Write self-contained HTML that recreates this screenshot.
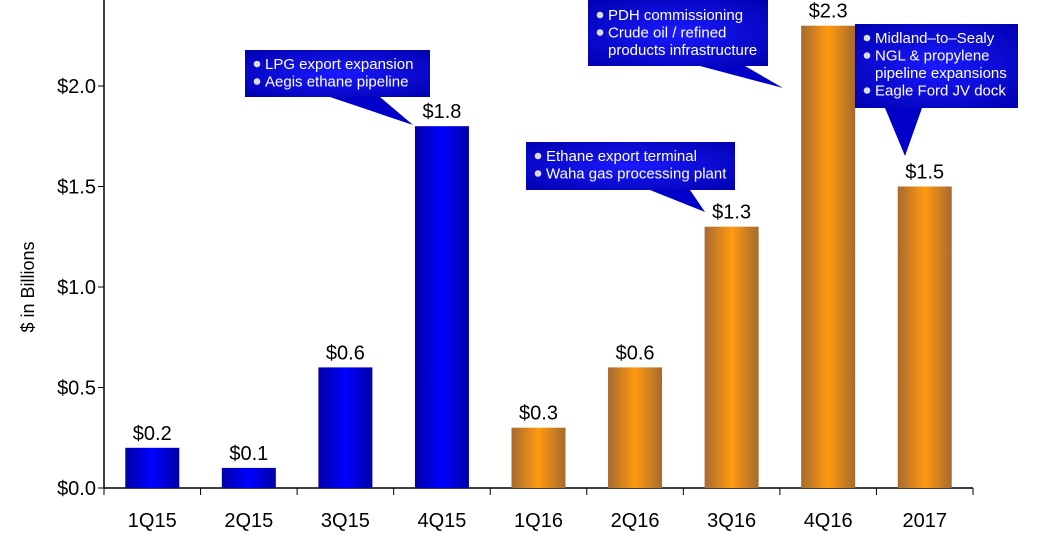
<!DOCTYPE html>
<html><head><meta charset="utf-8"><style>
body{margin:0;background:#fff;}
svg{display:block;font-family:"Liberation Sans",sans-serif;}
</style></head><body>
<svg id="chart" width="1047" height="537">
<defs>
<linearGradient id="gb" x1="0" x2="1"><stop offset="0" stop-color="#0000a8"/><stop offset="0.5" stop-color="#0000ff"/><stop offset="1" stop-color="#0000a8"/></linearGradient>
<linearGradient id="go" x1="0" x2="1"><stop offset="0" stop-color="#a66a30"/><stop offset="0.5" stop-color="#ff9a10"/><stop offset="1" stop-color="#a66a30"/></linearGradient>
<radialGradient id="gc" cx="0.5" cy="0.5" r="0.7"><stop offset="0" stop-color="#1a1aff"/><stop offset="1" stop-color="#0000b0"/></radialGradient>
</defs>
<g id="axes"></g><g id="bars"></g><g id="callouts"></g>
</svg>
<script>
const categories=["1Q15","2Q15","3Q15","4Q15","1Q16","2Q16","3Q16","4Q16","2017"];
const values=[0.2,0.1,0.6,1.8,0.3,0.6,1.3,2.3,1.5];
const valueLabels=["$0.2","$0.1","$0.6","$1.8","$0.3","$0.6","$1.3","$2.3","$1.5"];
const seriesColor=["b","b","b","b","o","o","o","o","o"];
const yTicks=[0,0.5,1.0,1.5,2.0];
const yTickLabels=["$0.0","$0.5","$1.0","$1.5","$2.0"];
const NS="http://www.w3.org/2000/svg";
const x0=104,x1=973,yBase=488,pxPer=201;
const bw=(x1-x0)/categories.length;
const y=v=>yBase-v*pxPer;
const xc=i=>x0+bw*(i+0.5);
function mk(tag,attrs,parent,txt){const e=document.createElementNS(NS,tag);for(const k in attrs)e.setAttribute(k,attrs[k]);if(txt!=null)e.textContent=txt;parent.appendChild(e);return e;}
const ax=document.getElementById('axes'),bg=document.getElementById('bars'),cg=document.getElementById('callouts');
let l=mk('line',{x1:x0,y1:0,x2:x0,y2:yBase,stroke:'#000','stroke-width':1.5},ax);

l=mk('line',{x1:x0,y1:yBase,x2:x1,y2:yBase,stroke:'#000','stroke-width':1.5},ax);

yTicks.forEach((t,i)=>{
 mk('line',{x1:x0-6,y1:y(t),x2:x0,y2:y(t),stroke:'#000'},ax);
 const tx=mk('text',{x:x0-8,y:y(t)+7,'text-anchor':'end','font-size':20,fill:'#000'},ax,yTickLabels[i]);
 
});
for(let i=0;i<=categories.length;i++)mk('line',{x1:x0+bw*i,y1:yBase,x2:x0+bw*i,y2:yBase+7,stroke:'#000'},ax);
const yt=mk('text',{x:0,y:0,transform:'translate(34,287) rotate(-90)','text-anchor':'middle','font-size':18},ax,'$ in Billions');

categories.forEach((c,i)=>{
 const t=mk('text',{x:xc(i),y:527,'text-anchor':'middle','font-size':20},ax,c);
 
 const r=mk('rect',{x:xc(i)-27,y:y(values[i]),width:54,height:yBase-y(values[i]),fill:seriesColor[i]=='b'?'url(#gb)':'url(#go)'},bg);
 
 const v=mk('text',{x:xc(i),y:y(values[i])-8,'text-anchor':'middle','font-size':20},bg,valueLabels[i]);
 
});
const callouts=[
 {box:[245,50,185,47],tail:[[330,97],[380,97],[413,125]],lines:["LPG export expansion","Aegis ethane pipeline"],indent:[0,0]},
 {box:[526,142,209,48],tail:[[650,190],[690,190],[705,212]],lines:["Ethane export terminal","Waha gas processing plant"],indent:[0,0]},
 {box:[588,0,180,66],tail:[[700,66],[745,66],[783,88]],lines:["PDH commissioning","Crude oil / refined","products infrastructure"],indent:[0,0,1]},
 {box:[855,24,163,84],tail:[[885,108],[922,108],[905,156]],lines:["Midland–to–Sealy","NGL & propylene","pipeline expansions","Eagle Ford JV dock"],indent:[0,0,1,0]}
];
callouts.forEach(c=>{
 const g=mk('g',{},cg);
 
 mk('polygon',{points:c.tail.map(p=>p.join(',')).join(' '),fill:'#0000c8'},g);
 mk('rect',{x:c.box[0],y:c.box[1],width:c.box[2],height:c.box[3],fill:'url(#gc)'},g);
 c.lines.forEach((s,j)=>{
  const ty=c.box[1]+(c.box[1]===0?20:19)+j*17.5;
  if(!c.indent[j])mk('circle',{cx:c.box[0]+12,cy:ty-5,r:3.3,fill:'#ddd'},g);
  mk('text',{x:c.box[0]+20,y:ty,'font-size':15,fill:'#fff',textLength:null},g,s).removeAttribute('textLength');
 });
});
</script>
</body></html>
